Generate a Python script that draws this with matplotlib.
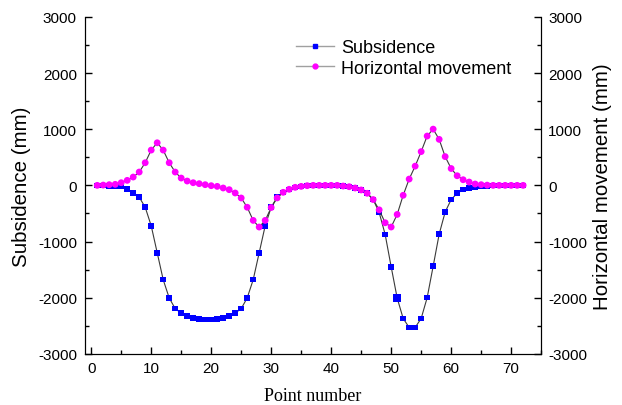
import numpy as np
import matplotlib
matplotlib.use("Agg")
import matplotlib.pyplot as plt
from matplotlib.ticker import MultipleLocator

# point numbers 1..72
points = list(range(1, 73))

subsidence = [0, 0, -8, -12, -24, -65, -140, -210, -390, -720,
              -1200, -1680, -2005, -2195, -2275, -2330, -2362, -2380, -2385, -2385,
              -2380, -2362, -2330, -2275, -2195, -2005, -1680, -1200, -720, -390,
              -210, -124, -70, -35, -18, -6, 0, 0, 0, 0,
              0, -12, -24, -47, -82, -141, -253, -483, -875, -1450,
              -2005, -2370, -2530, -2530, -2370, -2000, -1440, -870, -475, -253,
              -141, -77, -47, -29, -18, -8, -4, -2, 0, 0,
              0, 0]

horizontal = [0, 5, 12, 18, 47, 89, 148, 237, 403, 628,
              758, 628, 403, 237, 130, 77, 47, 30, 12, -6,
              -18, -47, -77, -136, -225, -390, -624, -742, -624, -395,
              -224, -124, -70, -35, -18, -6, 0, 0, 0, 0,
              0, -12, -24, -47, -82, -141, -253, -436, -666, -742,
              -518, -177, 112, 342, 601, 878, 1001, 819, 512, 300,
              171, 100, 59, 24, 12, 4, 0, 0, 0, 0,
              0, 0]

plt.rcParams['font.family'] = ['Liberation Sans', 'DejaVu Sans']
plt.rcParams['axes.unicode_minus'] = False

fig = plt.figure(figsize=(6.22, 4.06), dpi=100)
ax = fig.add_axes([0.137, 0.126, 0.733, 0.830])
ax2 = ax.twinx()

line_col = '#3a3a3a'
sq_sizes = np.full(len(points), 16.0)
sq_sizes[50] = 34.0

ax.plot(points, subsidence, color=line_col, lw=0.8, zorder=1)
ax.scatter(points, subsidence, s=sq_sizes, marker='s', color='#0000ff',
           edgecolors='none', zorder=2)
ax2.plot(points, horizontal, color=line_col, lw=0.8, zorder=1)
ax2.scatter(points, horizontal, s=24, marker='o', color='#ff00ff',
            edgecolors='none', zorder=2)

for a in (ax, ax2):
    a.set_ylim(-3000, 3000)
    a.yaxis.set_major_locator(MultipleLocator(1000))
    a.yaxis.set_minor_locator(MultipleLocator(500))
    a.spines['top'].set_visible(False)
    a.tick_params(which='both', direction='in', labelsize=11, width=1)
    a.tick_params(which='major', length=5, pad=5)
    a.tick_params(which='minor', length=3)
ax.tick_params(axis='y', which='major', pad=6)

ax.set_xlim(-1, 75)
ax.xaxis.set_major_locator(MultipleLocator(10))
ax.xaxis.set_minor_locator(MultipleLocator(5))

ax.set_ylabel('Subsidence (mm)', fontsize=14.8, labelpad=5)
ax2.set_ylabel('Horizontal movement (mm)', fontsize=14.8, labelpad=4)
ax.set_xlabel('Point number', fontsize=13, family='Liberation Serif', labelpad=9)

h1 = plt.Line2D([], [], color='#a0a0a0', lw=1, marker='s', ms=3,
                mfc='#0000ff', mec='#0000ff')
h2 = plt.Line2D([], [], color='#a0a0a0', lw=1, marker='o', ms=3.5,
                mfc='#ff00ff', mec='#ff00ff')
fig.legend([h1, h2], ['Subsidence', 'Horizontal movement'], loc='upper left',
           bbox_to_anchor=(0.450, 0.941), frameon=False, fontsize=13,
           handlelength=2.1, handletextpad=0.4, labelspacing=0.2)

fig.savefig('out.png', dpi=100)
